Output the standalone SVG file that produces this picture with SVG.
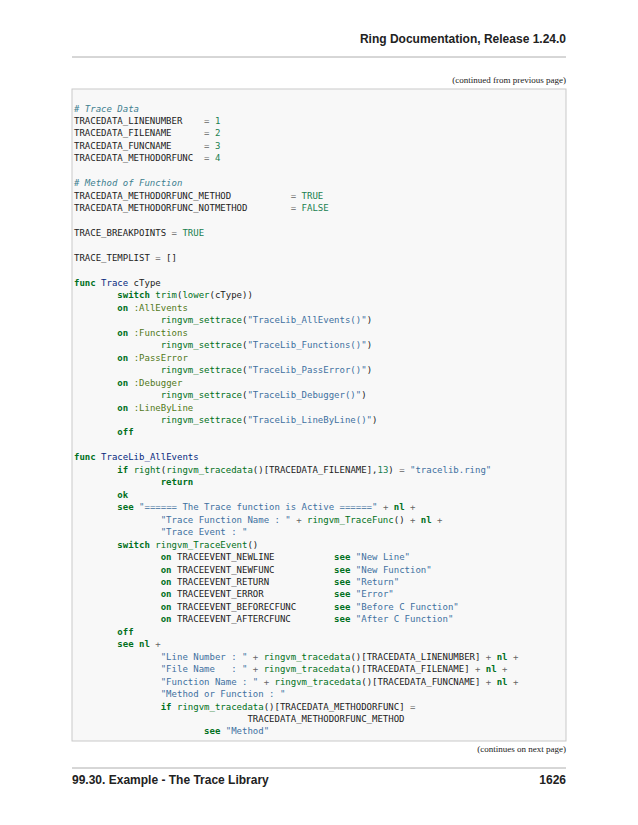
<svg xmlns="http://www.w3.org/2000/svg" width="638" height="825" viewBox="0 0 638 825">
<style>
.h{font-family:"Liberation Sans",Arial,sans-serif;font-weight:bold;font-size:12px;fill:#222}
.sm{font-family:"Liberation Serif","Times New Roman",serif;font-size:9px;fill:#222}
.code text{font-family:"DejaVu Sans Mono",monospace;font-size:9px;fill:#222;white-space:pre}
.k{fill:#007020;font-weight:bold}.s{fill:#4070a0}.c{fill:#408090;font-style:italic}
.n{fill:#208050}.b{fill:#007020}.f{fill:#06287e}.o{fill:#666}.y{fill:#517918}
</style>
<rect width="638" height="825" fill="#fff"/>
<text class="h" x="566" y="43" text-anchor="end">Ring Documentation, Release 1.24.0</text>
<line x1="72" y1="57" x2="566" y2="57" stroke="#999" stroke-width="0.8"/>
<text class="sm" x="566" y="83" text-anchor="end">(continued from previous page)</text>
<rect x="72" y="89" width="494" height="652" fill="#f8f8f8" stroke="#c9c9c9" stroke-width="1"/>
<g id="code" class="code" xml:space="preserve">
<text x="74" y="111.5"><tspan class="c"># Trace Data</tspan></text>
<text x="74" y="124">TRACEDATA_LINENUMBER    <tspan class="o">=</tspan> <tspan class="n">1</tspan></text>
<text x="74" y="136.4">TRACEDATA_FILENAME      <tspan class="o">=</tspan> <tspan class="n">2</tspan></text>
<text x="74" y="148.9">TRACEDATA_FUNCNAME      <tspan class="o">=</tspan> <tspan class="n">3</tspan></text>
<text x="74" y="161.3">TRACEDATA_METHODORFUNC  <tspan class="o">=</tspan> <tspan class="n">4</tspan></text>
<text x="74" y="186.3"><tspan class="c"># Method of Function</tspan></text>
<text x="74" y="198.7">TRACEDATA_METHODORFUNC_METHOD           <tspan class="o">=</tspan> <tspan class="n">TRUE</tspan></text>
<text x="74" y="211.2">TRACEDATA_METHODORFUNC_NOTMETHOD        <tspan class="o">=</tspan> <tspan class="n">FALSE</tspan></text>
<text x="74" y="236.1">TRACE_BREAKPOINTS <tspan class="o">=</tspan> <tspan class="n">TRUE</tspan></text>
<text x="74" y="261">TRACE_TEMPLIST <tspan class="o">=</tspan> []</text>
<text x="74" y="286"><tspan class="k">func</tspan> <tspan class="f">Trace</tspan> cType</text>
<text x="74" y="298.4">        <tspan class="k">switch</tspan> <tspan class="b">trim</tspan>(<tspan class="b">lower</tspan>(cType))</text>
<text x="74" y="310.9">        <tspan class="k">on</tspan> <tspan class="y">:AllEvents</tspan></text>
<text x="74" y="323.3">                <tspan class="b">ringvm_settrace</tspan>(<tspan class="s">"TraceLib_AllEvents()"</tspan>)</text>
<text x="74" y="335.8">        <tspan class="k">on</tspan> <tspan class="y">:Functions</tspan></text>
<text x="74" y="348.2">                <tspan class="b">ringvm_settrace</tspan>(<tspan class="s">"TraceLib_Functions()"</tspan>)</text>
<text x="74" y="360.7">        <tspan class="k">on</tspan> <tspan class="y">:PassError</tspan></text>
<text x="74" y="373.2">                <tspan class="b">ringvm_settrace</tspan>(<tspan class="s">"TraceLib_PassError()"</tspan>)</text>
<text x="74" y="385.6">        <tspan class="k">on</tspan> <tspan class="y">:Debugger</tspan></text>
<text x="74" y="398.1">                <tspan class="b">ringvm_settrace</tspan>(<tspan class="s">"TraceLib_Debugger()"</tspan>)</text>
<text x="74" y="410.5">        <tspan class="k">on</tspan> <tspan class="y">:LineByLine</tspan></text>
<text x="74" y="423">                <tspan class="b">ringvm_settrace</tspan>(<tspan class="s">"TraceLib_LineByLine()"</tspan>)</text>
<text x="74" y="435.4">        <tspan class="k">off</tspan></text>
<text x="74" y="460.4"><tspan class="k">func</tspan> <tspan class="f">TraceLib_AllEvents</tspan></text>
<text x="74" y="472.8">        <tspan class="k">if</tspan> <tspan class="b">right</tspan>(<tspan class="b">ringvm_tracedata</tspan>()[TRACEDATA_FILENAME],<tspan class="n">13</tspan>) <tspan class="o">=</tspan> <tspan class="s">"tracelib.ring"</tspan></text>
<text x="74" y="485.3">                <tspan class="k">return</tspan></text>
<text x="74" y="497.7">        <tspan class="k">ok</tspan></text>
<text x="74" y="510.2">        <tspan class="k">see</tspan> <tspan class="s">"====== The Trace function is Active ======"</tspan> <tspan class="o">+</tspan> <tspan class="k">nl</tspan> <tspan class="o">+</tspan></text>
<text x="74" y="522.6">                <tspan class="s">"Trace Function Name : "</tspan> <tspan class="o">+</tspan> <tspan class="b">ringvm_TraceFunc</tspan>() <tspan class="o">+</tspan> <tspan class="k">nl</tspan> <tspan class="o">+</tspan></text>
<text x="74" y="535.1">                <tspan class="s">"Trace Event : "</tspan></text>
<text x="74" y="547.6">        <tspan class="k">switch</tspan> <tspan class="b">ringvm_TraceEvent</tspan>()</text>
<text x="74" y="560">                <tspan class="k">on</tspan> TRACEEVENT_NEWLINE           <tspan class="k">see</tspan> <tspan class="s">"New Line"</tspan></text>
<text x="74" y="572.5">                <tspan class="k">on</tspan> TRACEEVENT_NEWFUNC           <tspan class="k">see</tspan> <tspan class="s">"New Function"</tspan></text>
<text x="74" y="584.9">                <tspan class="k">on</tspan> TRACEEVENT_RETURN            <tspan class="k">see</tspan> <tspan class="s">"Return"</tspan></text>
<text x="74" y="597.4">                <tspan class="k">on</tspan> TRACEEVENT_ERROR             <tspan class="k">see</tspan> <tspan class="s">"Error"</tspan></text>
<text x="74" y="609.8">                <tspan class="k">on</tspan> TRACEEVENT_BEFORECFUNC       <tspan class="k">see</tspan> <tspan class="s">"Before C Function"</tspan></text>
<text x="74" y="622.3">                <tspan class="k">on</tspan> TRACEEVENT_AFTERCFUNC        <tspan class="k">see</tspan> <tspan class="s">"After C Function"</tspan></text>
<text x="74" y="634.8">        <tspan class="k">off</tspan></text>
<text x="74" y="647.2">        <tspan class="k">see</tspan> <tspan class="k">nl</tspan> <tspan class="o">+</tspan></text>
<text x="74" y="659.7">                <tspan class="s">"Line Number : "</tspan> <tspan class="o">+</tspan> <tspan class="b">ringvm_tracedata</tspan>()[TRACEDATA_LINENUMBER] <tspan class="o">+</tspan> <tspan class="k">nl</tspan> <tspan class="o">+</tspan></text>
<text x="74" y="672.1">                <tspan class="s">"File Name   : "</tspan> <tspan class="o">+</tspan> <tspan class="b">ringvm_tracedata</tspan>()[TRACEDATA_FILENAME] <tspan class="o">+</tspan> <tspan class="k">nl</tspan> <tspan class="o">+</tspan></text>
<text x="74" y="684.6">                <tspan class="s">"Function Name : "</tspan> <tspan class="o">+</tspan> <tspan class="b">ringvm_tracedata</tspan>()[TRACEDATA_FUNCNAME] <tspan class="o">+</tspan> <tspan class="k">nl</tspan> <tspan class="o">+</tspan></text>
<text x="74" y="697">                <tspan class="s">"Method or Function : "</tspan></text>
<text x="74" y="709.5">                <tspan class="k">if</tspan> <tspan class="b">ringvm_tracedata</tspan>()[TRACEDATA_METHODORFUNC] <tspan class="o">=</tspan></text>
<text x="74" y="722">                                TRACEDATA_METHODORFUNC_METHOD</text>
<text x="74" y="734.4">                        <tspan class="k">see</tspan> <tspan class="s">"Method"</tspan></text>
</g>
<text class="sm" x="566" y="752" text-anchor="end">(continues on next page)</text>
<line x1="72" y1="768" x2="566" y2="768" stroke="#999" stroke-width="0.8"/>
<text class="h" x="72" y="784">99.30. Example - The Trace Library</text>
<text class="h" x="566" y="784" text-anchor="end">1626</text>
</svg>
